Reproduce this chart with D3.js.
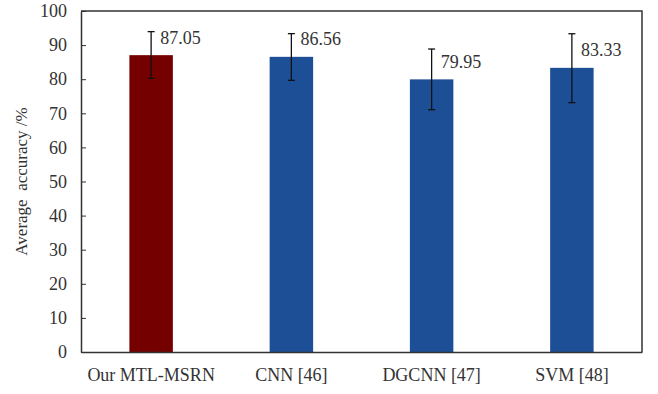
<!DOCTYPE html>
<html>
<head>
<meta charset="utf-8">
<script src="https://d3js.org/d3.v7.min.js"></script>
<style>
  body { margin: 0; background: #fff; }
  svg { font-family: "Liberation Serif", "Times New Roman", serif; }
</style>
</head>
<body>
<svg id="chart" width="658" height="394"></svg>
<script>
// values
var methods = ["Our MTL-MSRN", "CNN [46]", "DGCNN [47]", "SVM [48]"];
var accuracy = [87.05, 86.56, 79.95, 83.33];
var errLow = [6.8, 6.9, 8.9, 10.2];
var errHigh = [6.9, 6.8, 8.9, 10.0];
var barColors = ["#750000", "#1d4f96", "#1d4f96", "#1d4f96"];
var yTicks = [0, 10, 20, 30, 40, 50, 60, 70, 80, 90, 100];

var margin = {top: 11, right: 16, bottom: 42, left: 81};
var svg = d3.select("#chart");
var width = +svg.attr("width") - margin.left - margin.right;
var height = +svg.attr("height") - margin.top - margin.bottom;

var g = svg.append("g").attr("transform", "translate(" + margin.left + "," + margin.top + ")");

var x = d3.scaleBand().domain(methods).range([0, width]).paddingInner(0.69).paddingOuter(0.345);
var y = d3.scaleLinear().domain([0, 100]).range([height, 0]);

var data = methods.map(function(m, i) {
  return {name: m, value: accuracy[i], lo: accuracy[i] - errLow[i], hi: accuracy[i] + errHigh[i], color: barColors[i]};
});

// bars
g.selectAll("rect.bar")
  .data(data)
  .enter().append("rect")
  .attr("class", "bar")
  .attr("x", function(d) { return x(d.name); })
  .attr("width", x.bandwidth())
  .attr("y", function(d) { return y(d.value); })
  .attr("height", function(d) { return height - y(d.value); })
  .attr("fill", function(d) { return d.color; });

// error bars
var eb = g.selectAll("g.err").data(data).enter().append("g")
  .attr("class", "err")
  .attr("transform", function(d) { return "translate(" + (x(d.name) + x.bandwidth() / 2) + ",0)"; })
  .attr("stroke", "#111")
  .attr("stroke-width", 1.3);
eb.append("line").attr("y1", function(d) { return y(d.lo); }).attr("y2", function(d) { return y(d.hi); });
eb.append("line").attr("x1", -3.5).attr("x2", 3.5).attr("y1", function(d) { return y(d.hi); }).attr("y2", function(d) { return y(d.hi); });
eb.append("line").attr("x1", -3.5).attr("x2", 3.5).attr("y1", function(d) { return y(d.lo); }).attr("y2", function(d) { return y(d.lo); });

// value labels
g.selectAll("text.val").data(data).enter().append("text")
  .attr("class", "val")
  .attr("x", function(d) { return x(d.name) + x.bandwidth() / 2 + 9; })
  .attr("y", function(d) { return y(d.value) - 11.5; })
  .attr("font-size", 18)
  .attr("fill", "#333")
  .text(function(d) { return d.value.toFixed(2); });

// y axis with inward ticks
var yAxis = g.append("g").call(d3.axisLeft(y).tickValues(yTicks).tickSizeInner(-5).tickSizeOuter(0).tickPadding(14));
yAxis.selectAll("text").attr("font-size", 18).attr("fill", "#333").attr("font-family", "Liberation Serif");
yAxis.select(".domain").attr("stroke", "#333").attr("stroke-width", 1.5);
yAxis.selectAll(".tick line").attr("stroke", "#333");

// x axis
var xAxis = g.append("g").attr("transform", "translate(0," + height + ")")
  .call(d3.axisBottom(x).tickSize(0).tickPadding(16));
xAxis.selectAll("text").attr("font-size", 18).attr("fill", "#333").attr("font-family", "Liberation Serif");
xAxis.select(".domain").attr("stroke", "#333").attr("stroke-width", 1.5);

// frame top and right
g.append("path")
  .attr("d", "M0,0H" + width + "V" + height)
  .attr("fill", "none")
  .attr("stroke", "#333")
  .attr("stroke-width", 1.5);

// y label
svg.append("text")
  .attr("transform", "translate(27," + (margin.top + height / 2) + ") rotate(-90)")
  .attr("text-anchor", "middle")
  .attr("font-size", 17)
  .attr("fill", "#333")
  .attr("xml:space", "preserve")
  .text("Average  accuracy /%");
</script>
</body>
</html>
